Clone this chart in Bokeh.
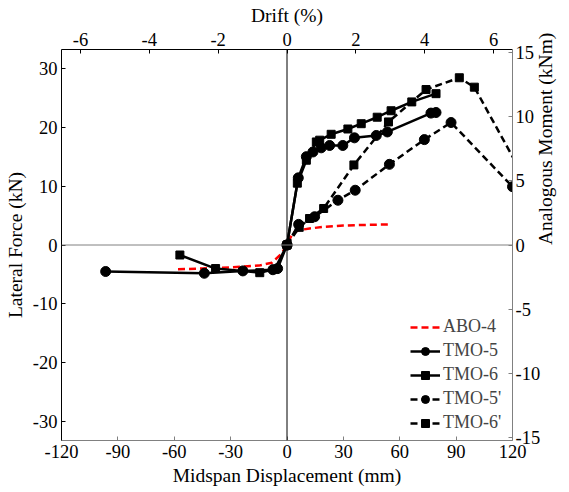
import math
from bokeh.plotting import figure
from bokeh.models import (Range1d, LinearAxis, Legend, LegendItem, Span, FixedTicker,
                          PrintfTickFormatter, Title)
from bokeh.embed import file_html
from bokeh.resources import INLINE

FONT = "Liberation Serif"

# ---- tick values ----
disp_ticks = [-120, -90, -60, -30, 0, 30, 60, 90, 120]
force_ticks = [-30, -20, -10, 0, 10, 20, 30]
drift_ticks = [-6, -4, -2, 0, 2, 4, 6]
moment_ticks = [-15, -10, -5, 0, 5, 10, 15]

# ---- series (midspan displacement mm, lateral force kN) ----
abo4_x = [-58, -45, -30, -15, -8, -3, 0, 3, 6, 12, 20, 30, 40, 55]
abo4_y = [-4.1, -4.0, -3.8, -3.5, -3.0, -1.5, 0, 2.0, 2.5, 2.8, 3.1, 3.3, 3.4, 3.5]

tmo5_x = [-96.5, -44, -23.5, -7.5, -5, 0, 6, 10.3, 13.8, 18.2, 22.7, 29.7, 35.9, 47.5, 53.4, 76.6, 79.3]
tmo5_y = [-4.5, -4.8, -4.4, -4.2, -4.0, 0, 11.4, 15.0, 15.8, 16.5, 16.9, 16.9, 18.2, 18.6, 19.2, 22.4, 22.5]

tmo6_x = [-57, -38, -14.5, -6.5, 0, 5.5, 10.3, 15.6, 17.4, 23.5, 32.4, 39.5, 48, 55.4, 66.4, 79.3]
tmo6_y = [-1.7, -4.0, -4.7, -4.1, 0, 10.5, 14.4, 17.5, 17.8, 18.8, 19.7, 20.6, 21.7, 22.8, 24.3, 25.7]

tmo5p_x = [0, 6.2, 14.7, 27.1, 36.3, 54.5, 73.1, 87.3, 120]
tmo5p_y = [0, 3.5, 4.8, 7.6, 9.3, 13.7, 17.9, 20.8, 9.9]

tmo6p_x = [0, 6.5, 12, 19.5, 35.6, 54, 74, 91.7, 99.7, 124]
tmo6p_y = [0, 3.0, 4.5, 6.2, 13.6, 20.9, 26.4, 28.4, 26.8, 12.7]

p = figure(width=569, height=492, output_backend="svg", toolbar_location=None,
           x_range=Range1d(-120, 120), y_range=Range1d(-33.2, 33.2))
p.min_border_left = 61
p.min_border_right = 56
p.min_border_top = 49
p.min_border_bottom = 52
p.outline_line_color = None
p.xgrid.visible = False
p.ygrid.visible = False
p.background_fill_color = "white"
p.border_fill_color = "white"

bottom_axis = p.below[0]
left_axis = p.left[0]

p.extra_x_ranges = {"drift": Range1d(-6.55, 6.55)}
p.extra_y_ranges = {"moment": Range1d(-15.25, 15.25)}

top_axis = LinearAxis(x_range_name="drift", axis_label="Drift (%)")
right_axis = LinearAxis(y_range_name="moment")
p.add_layout(top_axis, "above")
p.add_layout(right_axis, "right")

bottom_axis.axis_label = "Midspan Displacement (mm)"
left_axis.axis_label = "Lateral Force (kN)"

bottom_axis.ticker = FixedTicker(ticks=disp_ticks)
left_axis.ticker = FixedTicker(ticks=force_ticks)
top_axis.ticker = FixedTicker(ticks=drift_ticks)
right_axis.ticker = FixedTicker(ticks=moment_ticks)

for ax, col in ((bottom_axis, "#808080"), (left_axis, "black"), (top_axis, "black"), (right_axis, "#808080")):
    ax.formatter = PrintfTickFormatter(format="%d")
    ax.axis_line_color = col
    ax.axis_line_width = 1
    ax.major_tick_line_color = col
    ax.major_tick_in = 4
    ax.major_tick_out = 0
    ax.minor_tick_line_color = None
    ax.major_label_text_font = FONT
    ax.major_label_text_font_size = "18.5px"
    ax.major_label_text_color = "black"
    ax.axis_label_text_font = FONT
    ax.axis_label_text_font_size = "19.5px"
    ax.axis_label_text_font_style = "normal"
    ax.axis_label_text_color = "black"
    ax.major_label_standoff = 4
    ax.axis_label_standoff = 4

right_axis.major_label_standoff = 3

RIGHT_TITLE = "Analogous Moment (kNm)"
if "axis_label_orientation" in right_axis.properties():
    right_axis.axis_label = RIGHT_TITLE
    right_axis.axis_label_orientation = math.pi / 2
    right_axis.axis_label_standoff = 2
else:
    p.add_layout(Title(text=RIGHT_TITLE, align="center", text_font=FONT,
                       text_font_size="19.5px", text_font_style="normal"), "right")

p.add_layout(Span(location=0, dimension="height", line_color="black", line_width=1))
p.add_layout(Span(location=0, dimension="width", line_color="#808080", line_width=1))

DASH = "7 4"
LW = 2.5

r_abo = p.line(abo4_x, abo4_y, line_color="red", line_width=LW, line_dash=DASH)

l5 = p.line(tmo5_x, tmo5_y, line_color="black", line_width=LW)
m5 = p.scatter(tmo5_x, tmo5_y, marker="circle", size=10, fill_color="black", line_color="black")

l6 = p.line(tmo6_x, tmo6_y, line_color="black", line_width=LW)
m6 = p.scatter(tmo6_x, tmo6_y, marker="square", size=8, fill_color="black", line_color="black")

l5p = p.line(tmo5p_x, tmo5p_y, line_color="black", line_width=LW, line_dash=DASH)
m5p = p.scatter(tmo5p_x, tmo5p_y, marker="circle", size=10, fill_color="black", line_color="black")

l6p = p.line(tmo6p_x, tmo6p_y, line_color="black", line_width=LW, line_dash=DASH)
m6p = p.scatter(tmo6p_x, tmo6p_y, marker="square", size=8, fill_color="black", line_color="black")

legend = Legend(items=[
    LegendItem(label="ABO-4", renderers=[r_abo]),
    LegendItem(label="TMO-5", renderers=[l5, m5]),
    LegendItem(label="TMO-6", renderers=[l6, m6]),
    LegendItem(label="TMO-5'", renderers=[l5p, m5p]),
    LegendItem(label="TMO-6'", renderers=[l6p, m6p]),
], location=(349, 7))
legend.margin = 0
legend.padding = 0
legend.border_line_color = None
legend.background_fill_alpha = 0
legend.label_text_font = FONT
legend.label_text_font_size = "18px"
legend.glyph_width = 30
legend.glyph_height = 20
legend.label_height = 20
legend.spacing = 3
legend.label_standoff = 3
p.add_layout(legend, "center")

open("out.html", "w").write(file_html(p, INLINE))
